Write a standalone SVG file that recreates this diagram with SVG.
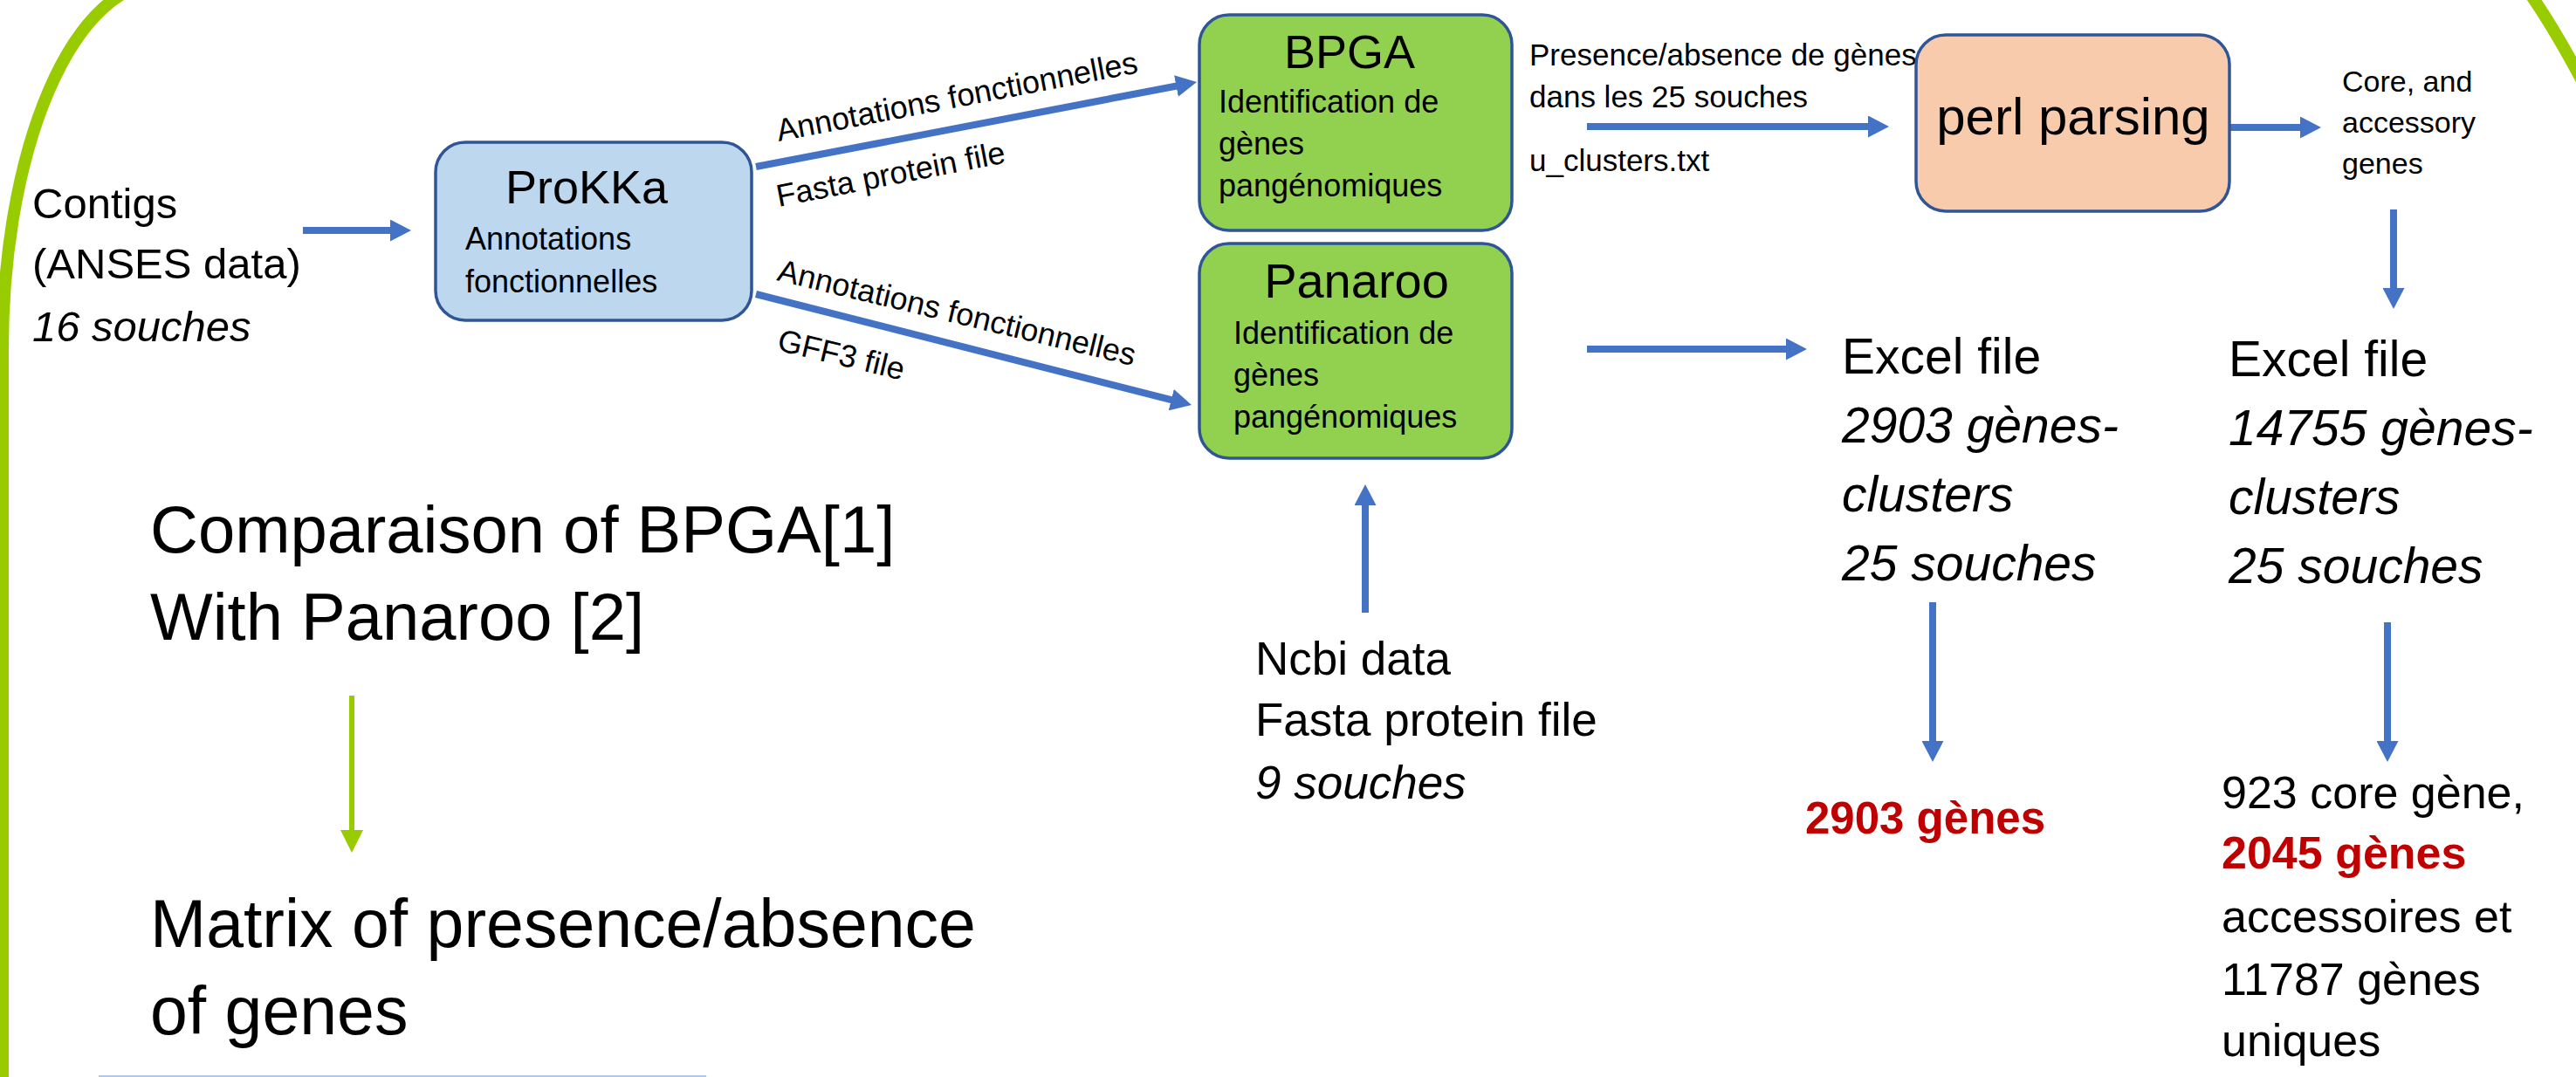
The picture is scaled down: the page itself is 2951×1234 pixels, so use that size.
<svg xmlns="http://www.w3.org/2000/svg" width="2951" height="1234" viewBox="0 0 2951 1234">
<style>
text{font-family:"Liberation Sans",Arial,sans-serif;fill:#000}
.box{stroke:#2F5597;stroke-width:3.5}
.blue{fill:#BDD7EE}
.green{fill:#92D050}
.peach{fill:#F8CBAD}
.conn{stroke:#4472C4;stroke-width:8;fill:none}
.it{font-style:italic}
.red{fill:#C00000;font-weight:bold}
.lbl{font-size:36px}
</style>
<defs>
<marker id="ah" markerUnits="userSpaceOnUse" viewBox="0 0 24 25" markerWidth="24" markerHeight="25" refX="2" refY="12.5" orient="auto">
<path d="M0,0 L24,12.5 L0,25 z" fill="#4472C4"/>
</marker>
<marker id="ahg" markerUnits="userSpaceOnUse" viewBox="0 0 26 26" markerWidth="26" markerHeight="26" refX="2" refY="13" orient="auto">
<path d="M0,0 L26,13 L0,26 z" fill="#99CC00"/>
</marker>
</defs>
<rect width="2951" height="1234" fill="#fff"/>
<g id="frame" fill="none" stroke="#99CC00" stroke-width="14">
<path d="M3,1240 L3,400 A182,420 0 0 1 185,-20"/>
<path d="M2895,-12 Q2925,30 2962,100"/>
</g>
<line x1="113" y1="1233" x2="809" y2="1233" stroke="#B4C7E7" stroke-width="2"/>

<g id="connectors">
<line class="conn" x1="347" y1="264" x2="449" y2="264" marker-end="url(#ah)"/>
<line class="conn" x1="866" y1="191" x2="1349.4" y2="98.2" marker-end="url(#ah)"/>
<line class="conn" x1="866" y1="337" x2="1343.7" y2="458.6" marker-end="url(#ah)"/>
<line class="conn" x1="1818" y1="145" x2="2142" y2="145" marker-end="url(#ah)"/>
<line class="conn" x1="2555" y1="146" x2="2637" y2="146" marker-end="url(#ah)"/>
<line class="conn" x1="2742" y1="240" x2="2742" y2="332" marker-end="url(#ah)"/>
<line class="conn" x1="1818" y1="400" x2="2048" y2="400" marker-end="url(#ah)"/>
<line class="conn" x1="1564" y1="702" x2="1564" y2="577" marker-end="url(#ah)"/>
<line class="conn" x1="2214" y1="690" x2="2214" y2="851" marker-end="url(#ah)"/>
<line class="conn" x1="2735" y1="713" x2="2735" y2="851" marker-end="url(#ah)"/>
<line x1="403" y1="797" x2="403" y2="953" stroke="#99CC00" stroke-width="6" marker-end="url(#ahg)"/>
<text class="lbl" transform="translate(892,162) rotate(-10.8)">Annotations fonctionnelles</text>
<text class="lbl" transform="translate(892,237) rotate(-11)">Fasta protein file</text>
<text class="lbl" transform="translate(889,321) rotate(13.5)">Annotations fonctionnelles</text>
<text class="lbl" transform="translate(889,401) rotate(13.5)">GFF3 file</text>
<g font-size="35">
<text x="1752" y="75">Presence/absence de gènes</text>
<text x="1752" y="123">dans les 25 souches</text>
<text x="1752" y="196">u_clusters.txt</text>
</g>
<g font-size="34">
<text x="2683" y="105">Core, and</text>
<text x="2683" y="152">accessory</text>
<text x="2683" y="199">genes</text>
</g>
</g>

<g id="contigs" font-size="49">
<text x="37" y="250">Contigs</text>
<text x="37" y="319">(ANSES data)</text>
<text x="37" y="391" class="it">16 souches</text>
</g>

<g id="prokka">
<rect class="box blue" x="499" y="163" width="362" height="204" rx="34"/>
<text x="672" y="233" font-size="54" text-anchor="middle">ProKKa</text>
<text x="533" y="286" font-size="36">Annotations</text>
<text x="533" y="335" font-size="36">fonctionnelles</text>
</g>

<g id="bpga">
<rect class="box green" x="1374" y="17" width="358" height="247" rx="34"/>
<text x="1546" y="78" font-size="54" text-anchor="middle">BPGA</text>
<text x="1396" y="129" font-size="36">Identification de</text>
<text x="1396" y="177" font-size="36">gènes</text>
<text x="1396" y="225" font-size="36">pangénomiques</text>
</g>

<g id="panaroo">
<rect class="box green" x="1374" y="279" width="358" height="246" rx="34"/>
<text x="1554" y="341" font-size="56" text-anchor="middle">Panaroo</text>
<text x="1413" y="394" font-size="36">Identification de</text>
<text x="1413" y="442" font-size="36">gènes</text>
<text x="1413" y="490" font-size="36">pangénomiques</text>
</g>

<g id="perl">
<rect class="box peach" x="2195" y="40" width="359" height="202" rx="34"/>
<text x="2375" y="154" font-size="60" text-anchor="middle">perl parsing</text>
</g>

<g id="ncbi" font-size="53">
<text x="1438" y="773">Ncbi data</text>
<text x="1438" y="843">Fasta protein file</text>
<text x="1438" y="915" class="it">9 souches</text>
</g>

<g id="excel1" font-size="57">
<text x="2110" y="428">Excel file</text>
<text x="2110" y="507" class="it">2903 gènes-</text>
<text x="2110" y="586" class="it">clusters</text>
<text x="2110" y="665" class="it">25 souches</text>
</g>

<g id="excel2" font-size="57">
<text x="2553" y="431">Excel file</text>
<text x="2553" y="510" class="it">14755 gènes-</text>
<text x="2553" y="589" class="it">clusters</text>
<text x="2553" y="668" class="it">25 souches</text>
</g>

<g id="result1">
<text x="2068" y="955" font-size="51" class="red">2903 gènes</text>
</g>

<g id="result2" font-size="52">
<text x="2545" y="926">923 core gène,</text>
<text x="2545" y="995" class="red">2045 gènes</text>
<text x="2545" y="1068">accessoires et</text>
<text x="2545" y="1140">11787 gènes</text>
<text x="2545" y="1210">uniques</text>
</g>

<g id="comparison" font-size="76">
<text x="172" y="633">Comparaison of BPGA[1]</text>
<text x="172" y="733">With Panaroo [2]</text>
</g>

<g id="matrix" font-size="77">
<text x="172" y="1085">Matrix of presence/absence</text>
<text x="172" y="1185">of genes</text>
</g>
</svg>
